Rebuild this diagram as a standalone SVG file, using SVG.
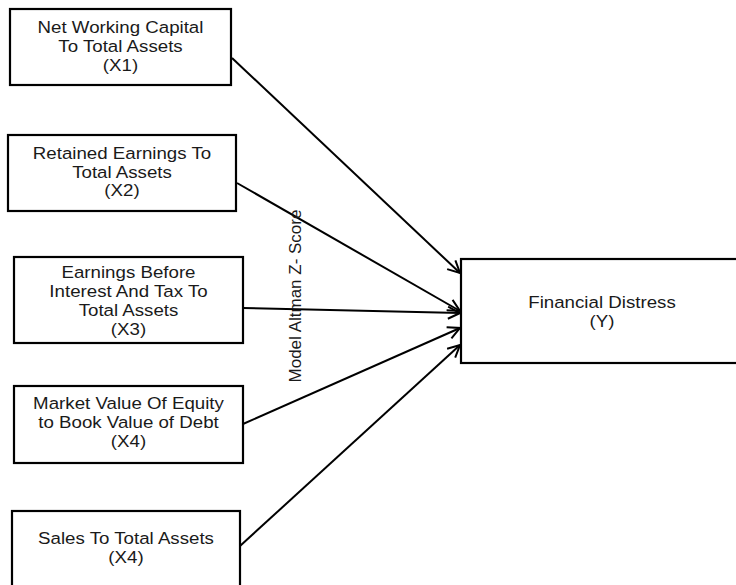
<svg xmlns="http://www.w3.org/2000/svg" width="736" height="585" viewBox="0 0 736 585">
<style>
.box{fill:#fff;stroke:#000;stroke-width:2.2}
.t{font-family:"Liberation Sans",Arial,sans-serif;font-size:17px;fill:#1a1a1a;text-anchor:middle}
.c{stroke:#000;stroke-width:2;fill:none;marker-end:url(#ah)}
</style>
<defs>
<marker id="ah" viewBox="0 0 14 14" refX="13" refY="7" markerWidth="14" markerHeight="14" markerUnits="userSpaceOnUse" orient="auto">
<path d="M1,1 L13,7 L1,13" fill="none" stroke="#000" stroke-width="2"/>
</marker>
</defs>
<rect width="736" height="585" fill="#fff"/>
<g id="connectors">
<line class="c" x1="232" y1="58" x2="460" y2="273"/>
<line class="c" x1="237" y1="183" x2="460" y2="311"/>
<line class="c" x1="243" y1="308" x2="460" y2="313"/>
<line class="c" x1="243" y1="424" x2="460" y2="328"/>
<line class="c" x1="240" y1="546" x2="460" y2="345"/>
</g>
<g id="x1">
<rect class="box" x="10" y="9" width="221" height="76"/>
<text class="t" transform="translate(120.5,0) scale(1.1,1)"><tspan x="0" y="33">Net Working Capital</tspan><tspan x="0" y="52">To Total Assets</tspan><tspan x="0" y="71">(X1)</tspan></text>
</g>
<g id="x2">
<rect class="box" x="8" y="135" width="228" height="76"/>
<text class="t" transform="translate(122,0) scale(1.1,1)"><tspan x="0" y="159">Retained Earnings To</tspan><tspan x="0" y="178">Total Assets</tspan><tspan x="0" y="196">(X2)</tspan></text>
</g>
<g id="x3">
<rect class="box" x="14" y="257" width="229" height="86"/>
<text class="t" transform="translate(128.5,0) scale(1.1,1)"><tspan x="0" y="278">Earnings Before</tspan><tspan x="0" y="297">Interest And Tax To</tspan><tspan x="0" y="316">Total Assets</tspan><tspan x="0" y="335">(X3)</tspan></text>
</g>
<g id="x4">
<rect class="box" x="14" y="386" width="229" height="77"/>
<text class="t" transform="translate(128.5,0) scale(1.1,1)"><tspan x="0" y="409">Market Value Of Equity</tspan><tspan x="0" y="428">to Book Value of Debt</tspan><tspan x="0" y="447">(X4)</tspan></text>
</g>
<g id="x5">
<rect class="box" x="12" y="511" width="228" height="90"/>
<text class="t" transform="translate(126,0) scale(1.1,1)"><tspan x="0" y="544">Sales To Total Assets</tspan><tspan x="0" y="563">(X4)</tspan></text>
</g>
<g id="y">
<rect class="box" x="461" y="259" width="290" height="104"/>
<text class="t" transform="translate(602,0) scale(1.1,1)"><tspan x="0" y="308">Financial Distress</tspan><tspan x="0" y="327">(Y)</tspan></text>
</g>
<g id="label">
<text class="t" transform="translate(301,296) rotate(-90)">Model Altman Z- Score</text>
</g>
</svg>
